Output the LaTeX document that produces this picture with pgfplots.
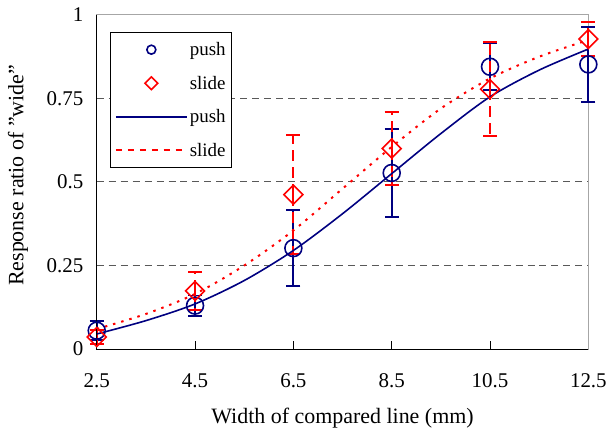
\documentclass[border=0pt]{standalone}
\usepackage{pgfplots}
\pgfplotsset{compat=1.18}
\usepackage{fontspec}
\setmainfont{Liberation Serif}
\definecolor{navyb}{RGB}{0,0,128}
\definecolor{redd}{RGB}{255,0,0}
\pgfplotsset{
  smallmarkleg/.style={legend image code/.code={\node[draw=none, fill=none, inner sep=0pt, outer sep=0pt, minimum width=2.5cm, minimum height=1pt, anchor=west] at (0cm,0cm) {};\draw[##1, mark size=#1] plot[only marks] coordinates {(1.25cm,0cm)};}},
  longlineleg/.style={legend image code/.code={\draw[##1] (0cm,0cm) -- (2.5cm,0cm);}},
}
\begin{document}
\begin{tikzpicture}
\begin{axis}[
  scale only axis, width=493pt, height=335pt,
  xmin=2.5, xmax=12.5, ymin=0, ymax=1,
  clip=false,
  xtick={2.5,4.5,6.5,8.5,10.5,12.5},
  xticklabels={2.5,4.5,6.5,8.5,10.5,12.5},
  ytick={0,1}, yticklabels={0,1},
  extra y ticks={0.25,0.5,0.75},
  extra y tick labels={0.25,0.5,0.75},
  extra y tick style={grid=major, major grid style={black!65, dash pattern=on 7pt off 5pt, line width=1pt}},
  xtick pos=bottom, ytick pos=left, tick align=inside,
  major tick length=8pt,
  xtick style={black, line width=0.8pt},
  ytick style={draw=none},
  xticklabel shift=21pt, yticklabel shift=10pt,
  tick label style={font=\fontsize{21}{24}\selectfont},
  axis line style={gray!70, line width=1pt},
  every axis x label/.style={at={(rel axis cs:0.5,0)}, yshift=-69pt, anchor=center, font=\fontsize{22}{26}\selectfont},
  every axis y label/.style={at={(rel axis cs:0,0.52)}, xshift=-79pt, rotate=90, anchor=center, font=\fontsize{22}{26}\selectfont},
  xlabel={Width of compared line (mm)},
  ylabel={Response ratio of \symbol{34}wide\symbol{34}},
  legend style={at={(0.028,0.949)}, anchor=north west, draw=black, line width=0.8pt,
    font=\fontsize{19}{22}\selectfont, row sep=15pt, inner xsep=4pt, inner ysep=8pt,
    nodes={inner sep=2pt}},
  legend cell align=left,
]
\addplot[only marks, mark=o, navyb, mark size=8.5pt, line width=1.6pt,
  smallmarkleg=4.5pt,
  error bars/.cd, y dir=both, y explicit,
  error bar style={line width=1.8pt, navyb, solid},
  error mark=-, error mark options={rotate=90, mark size=7pt, line width=1.8pt, navyb}]
coordinates {
  (2.5,0.055) +- (0,0.028)
  (4.5,0.130) +- (0,0.03)
  (6.5,0.302) +- (0,0.113)
  (8.5,0.527) +- (0,0.132)
  (10.5,0.845) +- (0,0.07)
  (12.5,0.852) +- (0,0.113)
};
\addlegendentry{push}
\addplot[only marks, mark=square, mark options={rotate=45, solid}, redd, mark size=6.7pt, line width=1.6pt,
  smallmarkleg=4.5pt,
  error bars/.cd, y dir=both, y explicit,
  error bar style={line width=2.2pt, redd, dash pattern=on 11pt off 6pt},
  error mark=-, error mark options={rotate=90, mark size=7pt, line width=2.2pt, redd, solid}]
coordinates {
  (2.5,0.036) +- (0,0.02)
  (4.5,0.174) +- (0,0.057)
  (6.5,0.462) +- (0,0.178)
  (8.5,0.600) +- (0,0.11)
  (10.5,0.778) +- (0,0.14)
  (12.5,0.928) +- (0,0.052)
};
\addlegendentry{slide}
\addplot[navyb, line width=1.6pt, smooth, no marks, longlineleg]
coordinates {
  (2.5,0.045)(3.5,0.085)(4.5,0.135)(5.5,0.205)(6.5,0.295)(7.5,0.405)
  (8.5,0.525)(9.5,0.645)(10.5,0.755)(11.5,0.835)(12.5,0.898)
};
\addlegendentry{push}
\addplot[redd, line width=2pt, smooth, no marks, dash pattern=on 2.5pt off 6pt,
  longlineleg, legend image post style={dash pattern=on 6pt off 6pt}]
coordinates {
  (2.5,0.06)(3.5,0.105)(4.5,0.165)(5.5,0.25)(6.5,0.355)(7.5,0.48)
  (8.5,0.605)(9.5,0.72)(10.5,0.81)(11.5,0.875)(12.5,0.925)
};
\addlegendentry{slide}
\draw[black, line width=1pt] (rel axis cs:0,1) -- (rel axis cs:0,0) -- (rel axis cs:1,0);
\coordinate (O) at (rel axis cs:0,0);
\coordinate (T) at (rel axis cs:1,1);
\end{axis}
\path ([shift={(-97pt,-83pt)}]O) rectangle ([shift={(20pt,15pt)}]T);
\end{tikzpicture}
\end{document}
